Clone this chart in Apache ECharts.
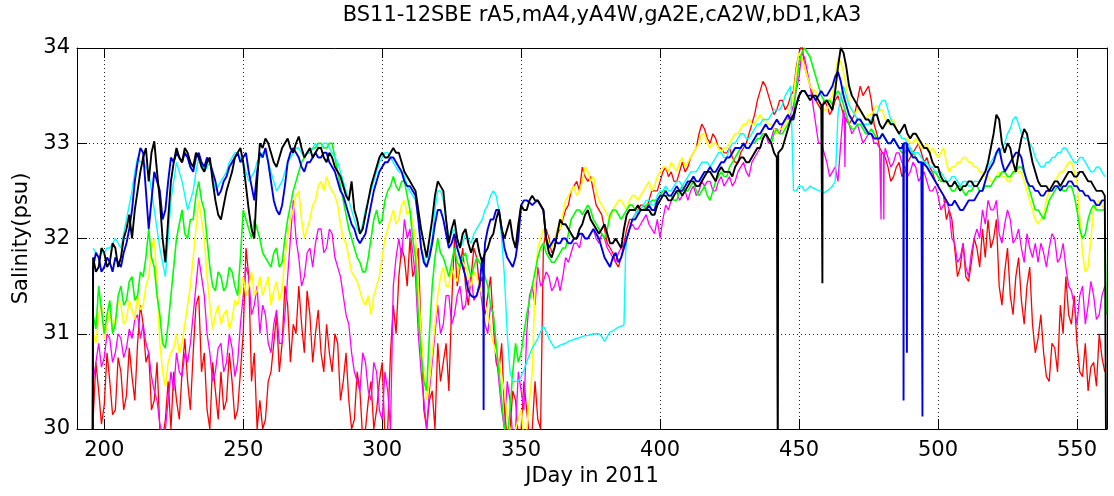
<!DOCTYPE html>
<html>
<head>
<meta charset="utf-8">
<script src="https://cdn.jsdelivr.net/npm/echarts@6/dist/echarts.min.js"></script>
<style>
  html, body { margin: 0; padding: 0; background: #fff; }
  #chart { width: 1114px; height: 496px; }
</style>
</head>
<body>
<div id="chart"></div>
<script>
// sampling days: even days 196..560 and the odd days in between
var days = [];
for (var d = 196; d <= 560; d += 2) days.push(d);
var oddDays = [];
for (var d2 = 197; d2 <= 559; d2 += 2) oddDays.push(d2);

var xTicks = [200, 250, 300, 350, 400, 450, 500, 550];

// rA5
var red = [
  30.1, 30.4, 30.25, 30.5, 30.2, 30.6, 30.35, 30.55, 30.9, 31.1,
  30.8, 30.3, 30.0, 30.1, 30.0, 30.3, 30.6, 30.5, 30.8, 31.4,
  30.8, 30.0, 30.4, 30.6, 30.3, 30.5, 30.2, 31.0, 31.6, 30.8,
  30.3, 30.1, 30.6, 31.2, 30.9, 31.3, 31.1, 31.5, 30.8, 31.2,
  31.0, 30.8, 31.1, 30.6, 30.9, 30.5, 30.3, 30.1, 30.4, 30.0,
  30.5, 30.2, 30.7, 30.0, 31.3, 31.6, 31.8, 32.0, 31.7, 31.0,
  30.0, 30.4, 30.9, 30.7, 30.4, 32.0, 31.7, 31.5, 31.6, 31.8,
  31.6, 31.4, 31.1, 30.6, 30.2, 30.0, 30.3, 30.0, 30.2, 30.0,
  30.1, 31.9, 32.0, 31.9, 32.1, 32.3, 32.5, 32.6, 32.75, 32.6,
  32.5, 32.3, 32.1, 31.9, 31.75, 31.8, 32.1, 32.2, 32.3, 32.35,
  32.4, 32.5, 32.6, 32.75, 32.7, 32.6, 32.8, 32.75, 32.9, 33.1,
  33.15, 33.0, 33.05, 32.95, 32.9, 32.85, 32.8, 32.95, 33.1, 33.3,
  33.55, 33.6, 33.4, 33.35, 33.45, 33.4, 33.55, 33.95, 33.8, 33.6,
  33.45, 33.35, 33.4, 33.35, 33.5, 33.3, 33.2, 33.3, 33.6, 33.55,
  33.45, 33.1, 32.9, 32.75, 32.65, 32.8, 32.7, 32.85, 32.95, 32.9,
  32.85, 32.7, 32.55, 32.45, 32.3, 31.9, 31.7, 31.6, 31.75, 31.9,
  32.1, 32.2, 32.0, 31.5, 31.65, 31.4, 31.6, 31.35, 31.5, 31.1,
  30.95, 30.8, 30.5, 30.85, 31.3, 31.6, 31.1, 30.9, 30.55, 30.4,
  30.7, 31.0, 30.6
];
var redOdd = [
  30.7, 30.05, 30.8, 30.15, 30.75, 30.2, 30.85, 30.3, 31.3, 30.7,
  30.2, 30.7, 29.9, 30.5, 30.6, 30.1, 30.95, 30.2, 31.3, 30.6,
  30.2, 30.7, 30.1, 30.2, 30.8, 30.1, 30.6, 31.9, 30.5, 30.0,
  30.0, 30.5, 30.9, 30.6, 31.5, 30.7, 31.0, 31.1, 31.45, 30.7,
  31.25, 30.6, 30.8, 31.0, 30.3, 30.8, 30.0, 30.6, 29.9, 30.3,
  30.0, 30.5, 29.9, 30.8, 31.0, 31.9, 31.5, 31.6, 31.9, 30.2,
  30.3, 30.0, 30.5, 30.9, 31.3, 31.5, 31.9, 31.3, 31.9, 31.5,
  31.2, 31.6, 30.7, 30.9, 29.9, 30.4, 29.9, 30.5, 29.9, 30.5,
  30.0, 32.1, 31.85, 32.05, 32.2, 32.35, 32.55, 32.5, 32.65, 32.65,
  32.35, 32.25, 31.95, 31.85, 31.7, 31.95, 32.2, 32.25, 32.35, 32.3,
  32.5, 32.5, 32.7, 32.65, 32.6, 32.7, 32.7, 32.85, 32.95, 33.2,
  33.05, 33.1, 32.95, 32.9, 32.95, 32.8, 32.9, 33.0, 33.2, 33.45,
  33.65, 33.5, 33.3, 33.45, 33.35, 33.5, 33.8, 34.05, 33.7, 33.5,
  33.4, 33.45, 33.3, 33.45, 33.4, 33.25, 33.25, 33.45, 33.5, 33.6,
  33.2, 32.95, 32.85, 32.6, 32.75, 32.65, 32.8, 32.9, 33.0, 32.8,
  32.75, 32.6, 32.5, 32.2, 32.2, 31.6, 31.95, 31.55, 32.0, 31.7,
  31.8, 31.9, 32.2, 31.3, 31.9, 31.2, 31.8, 31.1, 31.7, 30.8,
  31.2, 30.55, 30.9, 30.6, 31.0, 31.2, 31.4, 30.6, 30.9, 30.65,
  30.45, 30.75
];
var redExtra = [[195.9, 30.0]];

// mA4
var magenta = [
  30.5, 30.9, 30.75, 30.95, 30.8, 30.95, 30.85, 30.95, 31.2, 31.1,
  30.8, 30.4, 30.05, 30.0, 30.6, 30.8, 30.55, 30.7, 31.2, 31.8,
  31.4, 30.8, 30.6, 30.9, 30.7, 30.85, 30.7, 31.4, 31.6, 31.3,
  31.0, 31.2, 30.8, 31.25, 30.9, 31.6, 32.4, 31.8, 31.6, 31.9,
  31.95, 32.1, 31.9, 32.05, 31.7, 31.4, 31.1, 30.6, 30.4, 30.7,
  30.3, 30.6, 30.1, 30.4, 31.5, 32.0, 32.2, 32.1, 31.6, 30.6,
  30.0, 30.7, 31.3, 31.1, 31.4, 31.2, 31.5, 31.3, 31.6, 31.4,
  31.3, 31.0, 31.2, 30.5, 30.0, 30.3, 30.0, 30.4, 31.0, 31.5,
  31.7, 31.55, 31.6, 31.5, 31.45, 31.8, 31.85, 31.95, 32.05, 32.0,
  32.1, 31.95, 32.0, 31.85, 31.75, 31.9, 32.0, 32.15, 32.1, 32.2,
  32.15, 32.05, 32.0, 32.35, 32.4, 32.5, 32.45, 32.4, 32.55, 32.5,
  32.55, 32.6, 32.5, 32.65, 32.6, 32.55, 32.7, 32.8, 32.65, 32.85,
  32.95, 33.1, 33.05, 33.15, 33.2, 33.25, 33.4, 33.7, 33.9, 33.6,
  33.2, 33.0, 32.8, 32.7, 32.6, 33.35, 33.2, 33.15, 33.1, 33.05,
  33.1, 33.0, 32.9, 32.85, 32.8, 32.9, 32.75, 32.7, 32.75, 32.65,
  32.6, 32.5, 32.45, 32.35, 32.3, 31.95, 31.8, 31.7, 31.85, 32.1,
  32.3, 32.4, 32.3, 32.05, 32.15, 32.2, 32.0, 31.9, 32.05, 31.8,
  31.75, 31.85, 31.9, 32.0, 31.8, 31.7, 31.45, 31.1, 31.5, 31.3,
  31.4, 31.2, 31.5
];
var magentaOdd = [
  30.7, 30.65, 31.0, 30.7, 31.0, 30.75, 31.05, 31.15, 30.95, 30.9,
  30.55, 30.3, 29.95, 30.3, 30.4, 30.6, 30.8, 30.9, 31.5, 31.6,
  31.0, 30.5, 30.85, 30.6, 31.0, 30.55, 31.1, 31.7, 31.2, 31.5,
  31.3, 30.9, 31.1, 30.9, 31.2, 32.0, 32.0, 31.5, 31.85, 31.7,
  32.1, 31.85, 32.1, 31.8, 31.6, 31.2, 30.8, 30.5, 30.8, 30.4,
  30.7, 30.2, 30.6, 30.0, 31.8, 31.8, 32.0, 31.85, 31.0, 30.3,
  30.4, 31.0, 31.0, 31.4, 31.1, 31.4, 31.25, 31.55, 31.35, 31.55,
  31.1, 31.3, 30.8, 30.2, 30.5, 29.9, 30.6, 30.2, 31.4, 31.3,
  31.5, 31.65, 31.45, 31.6, 31.6, 31.75, 31.95, 31.9, 32.0, 32.05,
  32.0, 32.05, 31.9, 31.8, 31.85, 31.95, 32.1, 32.1, 32.15, 32.25,
  32.1, 32.2, 32.2, 32.3, 32.45, 32.4, 32.5, 32.5, 32.45, 32.6,
  32.6, 32.5, 32.6, 32.55, 32.65, 32.6, 32.75, 32.7, 32.8, 32.9,
  33.05, 33.0, 33.15, 33.1, 33.25, 33.3, 33.55, 33.95, 33.75, 33.4,
  33.0, 32.9, 32.65, 32.75, 33.0, 33.25, 33.1, 33.2, 33.0, 33.1,
  33.0, 32.95, 32.95, 32.75, 32.9, 32.8, 32.65, 32.8, 32.6, 32.7,
  32.5, 32.55, 32.3, 32.4, 32.0, 31.75, 31.95, 31.6, 32.0, 32.0,
  32.15, 32.3, 32.4, 31.95, 32.3, 31.95, 32.1, 31.75, 31.9, 31.95,
  31.95, 31.7, 32.05, 31.75, 31.95, 31.5, 31.3, 31.4, 31.1, 31.55,
  31.15, 31.4
];
var magentaExtra = [
  [466.3, 33.3], [466.5, 32.75], [466.7, 33.25],
  [479.4, 32.95], [479.5, 32.2], [479.6, 32.9],
  [480.4, 32.9], [480.5, 32.2], [480.6, 32.85]
];

// yA4W
var yellow = [
  31.0, 31.2, 30.95, 31.25, 31.15, 31.3, 31.15, 31.25, 31.4, 31.3,
  31.6, 32.0, 30.9, 30.45, 30.8, 31.0, 30.9, 31.3, 31.8, 32.4,
  32.0, 31.3, 31.2, 31.1, 31.25, 31.15, 31.3, 31.6, 31.5, 31.4,
  31.6, 31.5, 31.3, 31.55, 31.45, 32.0, 32.3, 32.5, 32.0, 32.2,
  32.4, 32.6, 32.65, 32.5, 32.35, 32.0, 31.8, 31.6, 31.45, 31.3,
  31.2, 31.5, 31.8, 32.1, 32.3, 32.2, 32.4, 32.3, 32.0, 31.0,
  30.3, 30.8, 31.4, 31.7, 31.5, 31.6, 31.8, 31.7, 31.5, 31.6,
  31.4, 31.2, 30.9, 30.7, 30.4, 30.0, 30.0, 30.2, 30.0, 30.6,
  31.9, 32.1, 31.95, 32.0, 32.1, 32.4, 32.5, 32.45, 32.6, 32.7,
  32.65, 32.4, 32.3, 32.2, 32.35, 32.4, 32.3, 32.45, 32.4, 32.5,
  32.6, 32.55, 32.7, 32.75, 32.8, 32.7, 32.85, 32.8, 32.9, 33.0,
  33.1, 32.95, 33.0, 32.9, 32.95, 33.05, 33.1, 33.2, 33.25, 33.2,
  33.3, 33.25, 33.2, 33.1, 33.15, 33.3, 33.5, 33.95, 33.8, 33.6,
  33.55, 33.4, 33.35, 33.5, 33.9, 33.75, 33.4, 33.3, 33.35, 33.25,
  33.3, 33.4, 33.35, 33.2, 33.25, 33.1, 33.05, 33.0, 33.05, 32.95,
  33.0, 32.95, 32.85, 32.95, 32.7, 32.75, 32.8, 32.85, 32.8, 32.75,
  32.7, 32.65, 32.6, 32.7, 32.65, 32.6, 32.75, 32.7, 32.5, 32.3,
  32.15, 32.25, 32.5, 32.6, 32.7, 32.75, 32.8, 32.6, 31.85, 31.7,
  32.3, 32.4, 32.3
];
var yellowOdd = [
  30.9, 31.3, 31.1, 31.05, 31.35, 31.1, 31.35, 31.15, 31.25, 31.5,
  31.9, 31.5, 30.6, 30.7, 30.85, 30.8, 31.1, 31.5, 32.1, 32.2,
  31.6, 31.05, 31.3, 31.2, 31.05, 31.35, 31.45, 31.4, 31.65, 31.45,
  31.4, 31.6, 31.45, 31.35, 31.8, 32.2, 32.45, 32.2, 32.1, 32.35,
  32.55, 32.5, 32.55, 32.45, 32.15, 31.95, 31.65, 31.55, 31.35, 31.4,
  31.4, 31.6, 32.0, 32.2, 32.15, 32.35, 32.25, 32.15, 31.5, 30.6,
  30.5, 31.1, 31.6, 31.5, 31.7, 31.55, 31.75, 31.6, 31.65, 31.5,
  31.3, 31.05, 30.8, 30.55, 30.1, 29.9, 30.1, 29.9, 30.3, 31.5,
  32.0, 32.05, 31.9, 32.1, 32.25, 32.45, 32.55, 32.5, 32.75, 32.6,
  32.5, 32.35, 32.25, 32.3, 32.4, 32.35, 32.4, 32.45, 32.45, 32.55,
  32.5, 32.65, 32.75, 32.7, 32.75, 32.8, 32.75, 32.85, 32.95, 33.1,
  33.0, 33.0, 32.95, 32.95, 33.0, 33.1, 33.15, 33.2, 33.2, 33.25,
  33.25, 33.2, 33.15, 33.15, 33.2, 33.4, 33.75, 33.9, 33.7, 33.55,
  33.45, 33.35, 33.45, 33.7, 33.85, 33.6, 33.35, 33.35, 33.3, 33.3,
  33.35, 33.35, 33.25, 33.25, 33.15, 33.05, 33.05, 33.0, 33.0, 32.95,
  32.9, 32.9, 32.9, 32.8, 32.75, 32.8, 32.85, 32.8, 32.75, 32.7,
  32.65, 32.6, 32.65, 32.65, 32.6, 32.7, 32.7, 32.6, 32.4, 32.2,
  32.2, 32.4, 32.55, 32.65, 32.7, 32.8, 32.7, 32.2, 31.65, 32.0,
  32.35, 32.35
];
var yellowExtra = [];

// gA2E
var green = [
  31.2, 31.5, 31.0, 31.35, 31.1, 31.5, 31.35, 31.6, 31.4, 31.6,
  32.1, 31.7, 31.2, 30.85, 31.4, 32.0, 32.3, 32.0, 32.2, 32.6,
  32.3, 31.7, 31.45, 31.6, 31.5, 31.65, 31.4, 32.3, 32.1, 32.2,
  32.0, 31.8, 31.7, 31.9, 31.75, 32.2, 32.5, 32.7, 32.85, 32.9,
  32.95, 33.0, 32.95, 33.0, 32.7, 32.4, 32.1, 31.9, 31.75, 31.65,
  32.0, 32.3, 32.2, 32.5, 32.65, 32.5, 32.6, 32.3, 31.8, 30.8,
  30.4, 31.5, 32.0, 31.8, 31.6, 31.9, 31.7, 31.85, 31.6, 31.8,
  31.7, 31.5, 31.2, 30.6, 30.0, 30.2, 30.9, 30.8, 31.2, 31.5,
  31.8, 31.95, 31.8, 31.75, 31.85, 31.9, 32.2, 32.3, 32.25, 32.35,
  32.2, 32.1, 32.0, 32.25, 32.3, 32.2, 32.3, 32.35, 32.25, 32.3,
  32.35, 32.4, 32.45, 32.5, 32.45, 32.4, 32.55, 32.5, 32.6, 32.45,
  32.55, 32.4, 32.6, 32.7, 32.65, 32.8, 32.9, 33.0, 32.95, 33.0,
  33.05, 33.1, 33.0, 33.15, 33.1, 33.2, 33.3, 33.85, 34.0, 33.9,
  33.7, 33.5, 33.45, 33.4, 33.55, 33.4, 33.2, 33.15, 33.2, 33.1,
  33.15, 33.05, 33.1, 33.0, 33.05, 32.95, 32.9, 32.95, 32.85, 32.8,
  32.75, 32.7, 32.65, 32.6, 32.55, 32.5, 32.55, 32.45, 32.5, 32.55,
  32.5, 32.55, 32.6, 32.65, 32.7, 32.65, 32.7, 32.75, 32.6, 32.4,
  32.3, 32.2, 32.4, 32.5, 32.55, 32.5, 32.55, 32.3, 32.0, 32.2,
  32.35, 32.3, 32.3
];
var greenOdd = [
  31.05, 31.25, 31.2, 31.0, 31.4, 31.3, 31.55, 31.35, 31.65, 31.8,
  31.8, 31.4, 30.9, 31.1, 31.7, 32.15, 32.05, 32.2, 32.45, 32.4,
  32.0, 31.5, 31.65, 31.45, 31.7, 31.5, 31.8, 32.2, 32.0, 32.1,
  31.85, 31.75, 31.85, 31.7, 32.0, 32.35, 32.6, 32.8, 32.9, 32.95,
  33.0, 32.95, 33.0, 32.85, 32.55, 32.25, 32.0, 31.8, 31.65, 31.8,
  32.2, 32.15, 32.4, 32.55, 32.55, 32.6, 32.45, 32.0, 31.2, 30.5,
  31.0, 31.8, 31.85, 31.7, 31.75, 31.75, 31.8, 31.7, 31.7, 31.75,
  31.6, 31.3, 30.9, 30.3, 29.9, 30.6, 30.7, 31.0, 31.35, 31.65,
  31.9, 31.85, 31.75, 31.8, 31.9, 32.05, 32.25, 32.3, 32.3, 32.3,
  32.15, 32.05, 32.1, 32.3, 32.25, 32.25, 32.35, 32.3, 32.3, 32.35,
  32.4, 32.4, 32.5, 32.45, 32.4, 32.5, 32.5, 32.55, 32.5, 32.5,
  32.45, 32.5, 32.65, 32.65, 32.75, 32.85, 32.95, 32.95, 33.0, 33.05,
  33.1, 33.05, 33.1, 33.1, 33.15, 33.25, 33.6, 33.95, 33.95, 33.8,
  33.6, 33.45, 33.45, 33.5, 33.5, 33.3, 33.15, 33.2, 33.15, 33.1,
  33.1, 33.05, 33.05, 33.0, 33.0, 32.9, 32.95, 32.9, 32.8, 32.8,
  32.7, 32.7, 32.6, 32.6, 32.5, 32.55, 32.5, 32.5, 32.55, 32.5,
  32.55, 32.55, 32.65, 32.7, 32.65, 32.7, 32.75, 32.7, 32.5, 32.3,
  32.25, 32.3, 32.45, 32.55, 32.5, 32.55, 32.45, 32.1, 32.05, 32.3,
  32.3, 32.3
];
var greenExtra = [[560.5, 31.2]];

// cA2W
var cyan = [
  31.9, 31.8, 31.85, 31.9, 32.0, 31.9, 32.2, 32.5, 32.85, 32.8,
  32.7, 32.3, 31.9, 31.6, 32.4, 32.8, 32.6, 32.3, 32.5, 32.85,
  32.7, 32.8, 32.5, 32.6, 32.7, 32.85, 32.9, 32.8, 32.6, 32.7,
  32.85, 32.9, 32.7, 32.5, 32.6, 32.8, 32.9, 32.95, 32.85, 32.9,
  33.0, 32.95, 33.0, 32.9, 32.8, 32.6, 32.4, 32.2, 32.05, 32.3,
  32.5, 32.7, 32.85, 32.9, 32.8, 32.7, 32.65, 32.5, 32.4, 31.9,
  31.7, 32.0, 32.5, 32.4, 32.0, 32.1, 31.9, 32.05, 31.95, 32.1,
  32.2, 32.35, 32.5, 32.3, 31.6, 30.6, 30.5, 30.55, 30.7, 30.85,
  30.95, 31.08, 30.95, 30.85, 30.88, 30.9, 30.93, 30.95, 30.97, 30.98,
  31.0, 31.0, 30.92, 31.02, 31.05, 31.08, 32.0, 32.2, 32.3, 32.35,
  32.4, 32.35, 32.5, 32.55, 32.5, 32.6, 32.55, 32.65, 32.7, 32.75,
  32.8, 32.75, 32.85, 32.9, 32.85, 33.0, 33.05, 33.1, 33.05, 33.15,
  33.2, 33.25, 33.3, 33.35, 33.4, 33.55, 32.5, 32.55, 32.5, 32.55,
  32.52, 32.5, 32.5, 32.55, 33.3, 33.6, 33.4, 33.3, 33.25, 33.2,
  33.25, 33.3, 33.45, 33.35, 33.2, 33.1, 33.05, 32.95, 32.9, 32.85,
  32.8, 32.75, 32.7, 32.65, 32.6, 32.65, 32.55, 32.6, 32.55, 32.6,
  32.65, 32.75, 32.85, 32.9, 33.0, 33.15, 33.28, 33.1, 33.05, 32.95,
  32.8, 32.75, 32.8, 32.85, 32.9, 32.95, 32.85, 32.8, 32.85, 32.75,
  32.7, 32.75, 32.65
];
var cyanOdd = [
  31.85, 31.85, 31.9, 31.95, 31.95, 32.05, 32.35, 32.7, 32.8, 32.75,
  32.5, 32.1, 31.75, 32.0, 32.6, 32.7, 32.45, 32.4, 32.7, 32.8,
  32.75, 32.65, 32.55, 32.65, 32.8, 32.9, 32.85, 32.7, 32.65, 32.8,
  32.9, 32.8, 32.6, 32.55, 32.7, 32.85, 32.95, 32.9, 32.9, 32.95,
  32.95, 33.0, 32.95, 32.85, 32.7, 32.5, 32.3, 32.1, 32.15, 32.4,
  32.6, 32.8, 32.9, 32.85, 32.75, 32.7, 32.55, 32.45, 32.2, 31.8,
  31.85, 32.3, 32.5, 32.2, 32.05, 32.0, 31.95, 32.0, 32.05, 32.15,
  32.3, 32.45, 32.45, 32.0, 31.0, 30.5, 30.5, 30.62, 30.78, 30.9,
  31.02, 31.02, 30.9, 30.86, 30.89, 30.92, 30.94, 30.96, 30.98, 30.99,
  31.0, 30.97, 30.97, 31.03, 31.07, 31.09, 32.1, 32.25, 32.3, 32.4,
  32.35, 32.45, 32.5, 32.5, 32.55, 32.6, 32.6, 32.7, 32.7, 32.8,
  32.8, 32.8, 32.9, 32.85, 32.95, 33.0, 33.1, 33.05, 33.1, 33.2,
  33.25, 33.25, 33.35, 33.35, 33.5, 33.6, 32.5, 32.55, 32.52, 32.53,
  32.5, 32.48, 32.52, 32.6, 33.5, 33.5, 33.35, 33.25, 33.2, 33.2,
  33.3, 33.4, 33.45, 33.25, 33.15, 33.05, 33.0, 32.9, 32.9, 32.8,
  32.75, 32.7, 32.7, 32.6, 32.65, 32.6, 32.6, 32.55, 32.6, 32.6,
  32.7, 32.8, 32.9, 32.95, 33.1, 33.25, 33.2, 33.05, 33.0, 32.85,
  32.75, 32.8, 32.85, 32.9, 32.95, 32.9, 32.8, 32.85, 32.8, 32.7,
  32.75, 32.7
];
var cyanExtra = [[387.3, 31.1], [387.6, 31.85]];

// bD1
var blue = [
  31.7, 31.8, 31.7, 31.75, 31.8, 31.7, 31.95, 32.3, 32.8, 32.9,
  32.1, 32.7, 32.5, 32.3, 32.85, 32.9, 32.8, 32.85, 32.7, 32.9,
  32.75, 32.8, 32.6, 32.5, 32.65, 32.8, 32.9, 32.85, 32.7, 32.4,
  32.9, 32.95, 32.6, 32.3, 32.35, 32.8, 32.95, 32.85, 32.7, 32.8,
  32.9, 32.85, 32.9, 32.75, 32.6, 32.45, 32.25, 32.1, 31.95, 32.05,
  32.35, 32.6, 32.75, 32.8, 32.85, 32.75, 32.6, 32.55, 32.45, 31.9,
  31.7, 31.95, 32.3, 32.2, 31.9, 32.05, 31.8, 31.6, 31.4, 31.4,
  31.8, 32.1, 32.2, 32.3, 31.9, 31.75, 31.8, 32.35, 32.4, 32.35,
  32.4, 32.3, 31.9, 32.0, 31.95, 32.0, 31.95, 32.0, 32.05, 32.0,
  32.1, 32.0, 31.8, 31.7, 31.85, 31.8, 32.0, 32.2, 32.25, 32.3,
  32.35, 32.3, 32.45, 32.5, 32.45, 32.55, 32.5, 32.6, 32.65, 32.6,
  32.7, 32.75, 32.7, 32.8, 32.85, 32.9, 32.95, 33.0, 32.95, 33.05,
  33.1, 33.2, 33.15, 33.25, 33.2, 33.3, 33.25, 33.5, 33.55, 33.5,
  33.45, 33.55, 33.5, 33.6, 33.75, 33.5, 33.3, 33.2, 33.25, 33.15,
  33.1, 33.05, 33.1, 33.0, 33.05, 32.95, 33.0, 32.9, 32.85, 32.8,
  32.75, 32.65, 32.55, 32.45, 32.35, 32.4, 32.3, 32.35, 32.4, 32.45,
  32.5, 32.7, 32.8, 32.95, 32.7, 32.8, 32.9, 32.85, 32.6, 32.55,
  32.5, 32.45, 32.5, 32.55, 32.5, 32.55, 32.6, 32.55, 32.5, 32.45,
  32.4, 32.35, 32.4
];
var blueOdd = [
  31.85, 31.65, 31.8, 31.65, 31.75, 31.85, 32.1, 32.6, 32.95, 32.5,
  32.4, 32.6, 32.2, 32.6, 32.8, 32.85, 32.9, 32.75, 32.85, 32.8,
  32.85, 32.7, 32.45, 32.6, 32.75, 32.85, 32.8, 32.9, 32.55, 32.7,
  32.85, 32.8, 32.4, 32.25, 32.55, 32.9, 32.9, 32.75, 32.8, 32.85,
  32.85, 32.9, 32.8, 32.7, 32.5, 32.35, 32.15, 32.0, 32.0, 32.2,
  32.5, 32.7, 32.8, 32.85, 32.8, 32.7, 32.55, 32.5, 32.2, 31.75,
  31.8, 32.15, 32.3, 32.05, 31.95, 31.9, 31.7, 31.45, 31.38, 31.5,
  31.95, 32.2, 32.3, 32.1, 31.8, 31.7, 32.0, 32.4, 32.38, 32.38,
  32.35, 32.0, 31.95, 31.95, 32.0, 31.95, 32.0, 32.05, 32.0, 32.05,
  32.05, 31.9, 31.75, 31.8, 31.75, 31.9, 32.1, 32.2, 32.3, 32.3,
  32.3, 32.4, 32.45, 32.45, 32.5, 32.5, 32.55, 32.6, 32.6, 32.65,
  32.7, 32.7, 32.75, 32.8, 32.85, 32.95, 32.95, 32.95, 33.0, 33.1,
  33.15, 33.15, 33.2, 33.2, 33.25, 33.25, 33.4, 33.55, 33.5, 33.5,
  33.5, 33.5, 33.55, 33.7, 33.65, 33.4, 33.25, 33.25, 33.2, 33.1,
  33.05, 33.05, 33.05, 33.0, 33.0, 32.95, 32.95, 32.85, 32.8, 32.8,
  32.7, 32.6, 32.5, 32.4, 32.35, 32.35, 32.3, 32.4, 32.4, 32.5,
  32.6, 32.75, 32.9, 32.8, 32.75, 32.85, 32.9, 32.7, 32.55, 32.5,
  32.45, 32.5, 32.5, 32.55, 32.55, 32.6, 32.55, 32.5, 32.45, 32.4,
  32.35, 32.4
];
var blueExtra = [
  [195.9, 30.0], [336.4, 31.6], [336.5, 30.2], [336.6, 31.7],
  [487.5, 33.0], [487.6, 30.3], [487.7, 33.0],
  [488.7, 33.0], [488.8, 30.8], [488.9, 33.0],
  [494.3, 32.8], [494.4, 30.13], [494.5, 32.8]
];

// kA3
var black = [
  31.8, 31.7, 31.85, 31.75, 31.9, 31.8, 32.1, 32.0, 32.5, 32.85,
  32.6, 33.02, 32.4, 31.75, 32.6, 32.95, 32.8, 32.9, 32.75, 32.85,
  32.7, 32.85, 32.4, 32.2, 32.5, 32.7, 32.9, 32.8, 32.3, 32.0,
  33.0, 33.05, 32.9, 32.75, 32.95, 33.05, 32.9, 33.07, 32.85, 32.95,
  32.9, 32.95, 32.8, 32.85, 32.7, 32.55, 32.4, 32.3, 32.05, 32.25,
  32.55, 32.75, 32.9, 32.85, 32.95, 32.9, 32.7, 32.6, 32.5, 32.1,
  31.8, 32.2, 32.6, 32.5, 31.95, 32.2, 31.9, 32.1, 31.85, 32.0,
  31.75, 31.9, 32.05, 32.3, 32.0, 32.2, 31.9, 32.35, 32.3, 32.45,
  32.4, 32.3, 31.85, 31.9, 32.2, 32.15, 32.05, 32.0, 32.15, 32.3,
  32.15, 32.05, 32.15, 31.95, 32.0, 31.9, 32.25, 32.3, 32.35, 32.3,
  32.3, 32.25, 32.4, 32.45, 32.4, 32.5, 32.45, 32.55, 32.6, 32.55,
  32.65, 32.7, 32.6, 32.75, 32.7, 32.65, 32.8, 32.85, 32.8, 32.9,
  32.95, 33.1, 33.0, 32.85, 32.95, 33.15, 33.3, 33.5, 33.55, 33.45,
  33.5, 33.4, 33.45, 33.35, 33.8, 33.95, 33.6, 33.45, 33.35, 33.25,
  33.2, 33.3, 33.15, 33.25, 33.2, 33.1, 33.2, 33.05, 33.1, 33.0,
  32.95, 32.8, 32.75, 32.6, 32.55, 32.6, 32.5, 32.55, 32.6, 32.55,
  32.65, 32.8, 33.1, 33.25, 32.9, 32.95, 32.7, 33.05, 33.1, 32.8,
  32.6, 32.55, 32.5, 32.6, 32.55, 32.65, 32.7, 32.65, 32.7, 32.6,
  32.55, 32.5, 32.45
];
var blackOdd = [
  31.65, 31.9, 31.7, 31.95, 31.7, 32.0, 32.25, 32.3, 32.7, 32.95,
  32.9, 32.7, 32.0, 32.2, 32.8, 32.85, 32.95, 32.8, 32.9, 32.75,
  32.8, 32.6, 32.25, 32.35, 32.6, 32.85, 32.95, 32.55, 32.1, 32.6,
  32.95, 33.0, 32.8, 32.85, 33.0, 32.95, 33.0, 32.95, 32.9, 32.85,
  32.95, 32.85, 32.9, 32.75, 32.65, 32.45, 32.6, 32.2, 32.1, 32.4,
  32.65, 32.85, 32.85, 32.9, 32.9, 32.8, 32.65, 32.55, 32.3, 31.95,
  32.0, 32.45, 32.55, 32.2, 32.1, 32.0, 32.05, 31.95, 31.95, 31.85,
  31.85, 32.0, 32.2, 32.1, 32.1, 32.0, 32.15, 32.3, 32.4, 32.4,
  32.35, 32.0, 31.8, 32.05, 32.15, 32.1, 32.0, 32.1, 32.25, 32.2,
  32.1, 32.1, 32.05, 31.95, 31.95, 32.1, 32.3, 32.3, 32.3, 32.3,
  32.25, 32.35, 32.45, 32.4, 32.45, 32.5, 32.5, 32.6, 32.55, 32.6,
  32.7, 32.65, 32.7, 32.7, 32.7, 32.75, 32.85, 32.8, 32.85, 32.95,
  33.05, 33.05, 32.9, 32.9, 33.05, 33.25, 33.4, 33.55, 33.5, 33.5,
  33.45, 33.4, 33.4, 33.55, 34.0, 33.8, 33.5, 33.4, 33.3, 33.25,
  33.3, 33.2, 33.2, 33.2, 33.15, 33.15, 33.1, 33.1, 33.05, 32.95,
  32.9, 32.75, 32.65, 32.6, 32.55, 32.55, 32.55, 32.6, 32.55, 32.6,
  32.7, 32.95, 33.3, 33.0, 33.0, 32.8, 32.9, 33.15, 32.95, 32.7,
  32.55, 32.55, 32.55, 32.6, 32.6, 32.7, 32.65, 32.7, 32.65, 32.6,
  32.5, 32.5
];
var blackExtra = [
  [195.8, 30.0],
  [442.2, 32.85], [442.35, 29.5], [442.5, 32.9],
  [458.3, 33.4], [458.4, 31.53], [458.5, 33.4],
  [560.5, 29.5]
];

function build(vals, odd, extra) {
  var pts = [];
  for (var i = 0; i < days.length; i++) pts.push([days[i], vals[i]]);
  for (var k = 0; k < oddDays.length && k < odd.length; k++) pts.push([oddDays[k], odd[k]]);
  for (var j = 0; j < extra.length; j++) pts.push(extra[j]);
  pts.sort(function(a, b) { return a[0] - b[0]; });
  return pts;
}

var font = 'DejaVu Sans';
var chart = echarts.init(document.getElementById('chart'), null, { renderer: 'canvas' });

function line(name, color, vals, odd, extra, w) {
  return {
    name: name,
    type: 'line',
    data: build(vals, odd, extra),
    symbol: 'none',
    showSymbol: false,
    lineStyle: { color: color, width: w },
    itemStyle: { color: color },
    animation: false,
    silent: true
  };
}

var tickStyle = { show: true, inside: true, length: 10, lineStyle: { color: '#000', width: 1 } };

var option = {
  backgroundColor: '#fff',
  animation: false,
  title: {
    text: 'BS11-12SBE rA5,mA4,yA4W,gA2E,cA2W,bD1,kA3',
    left: 597,
    top: 0,
    textAlign: 'center',
    textStyle: { fontFamily: font, fontSize: 21, fontWeight: 'normal', color: '#000' }
  },
  grid: { left: 77, right: 7, top: 48, bottom: 67 },
  xAxis: [
    {
      type: 'value',
      min: 190.2,
      max: 560.8,
      name: 'JDay in 2011',
      nameLocation: 'middle',
      nameGap: 37,
      nameTextStyle: { fontFamily: font, fontSize: 21, color: '#000' },
      axisLine: { show: true, onZero: false, lineStyle: { color: '#000', width: 1 } },
      axisTick: Object.assign({ customValues: xTicks }, tickStyle),
      axisLabel: { customValues: xTicks, fontFamily: font, fontSize: 21, color: '#000', margin: 11 },
      splitLine: { show: true, lineStyle: { color: '#222', width: 1, type: [1, 3] } }
    },
    {
      type: 'value',
      position: 'top',
      min: 190.2,
      max: 560.8,
      axisLine: { show: true, onZero: false, lineStyle: { color: '#000', width: 1 } },
      axisTick: Object.assign({ customValues: xTicks }, tickStyle),
      axisLabel: { show: false },
      splitLine: { show: false }
    }
  ],
  yAxis: [
    {
      type: 'value',
      min: 30,
      max: 34,
      interval: 1,
      name: 'Salinity(psu)',
      nameLocation: 'middle',
      nameGap: 44,
      nameTextStyle: { fontFamily: font, fontSize: 21, color: '#000' },
      axisLine: { show: true, onZero: false, lineStyle: { color: '#000', width: 1 } },
      axisTick: tickStyle,
      axisLabel: { fontFamily: font, fontSize: 21, color: '#000', margin: 7 },
      splitLine: { show: true, lineStyle: { color: '#222', width: 1, type: [1, 3] } }
    },
    {
      type: 'value',
      position: 'right',
      min: 30,
      max: 34,
      interval: 1,
      axisLine: { show: true, onZero: false, lineStyle: { color: '#000', width: 1 } },
      axisTick: tickStyle,
      axisLabel: { show: false },
      splitLine: { show: false }
    }
  ],
  series: [
    line('rA5', '#ff0000', red, redOdd, redExtra, 1.3),
    line('mA4', '#ff00ff', magenta, magentaOdd, magentaExtra, 1.3),
    line('yA4W', '#ffff00', yellow, yellowOdd, yellowExtra, 1.6),
    line('gA2E', '#00ff00', green, greenOdd, greenExtra, 1.6),
    line('cA2W', '#00ffff', cyan, cyanOdd, cyanExtra, 1.4),
    line('bD1', '#0000e6', blue, blueOdd, blueExtra, 1.9),
    line('kA3', '#000000', black, blackOdd, blackExtra, 1.9)
  ]
};
chart.setOption(option);
window.addEventListener('resize', function() { chart.resize(); });
</script>
</body>
</html>
